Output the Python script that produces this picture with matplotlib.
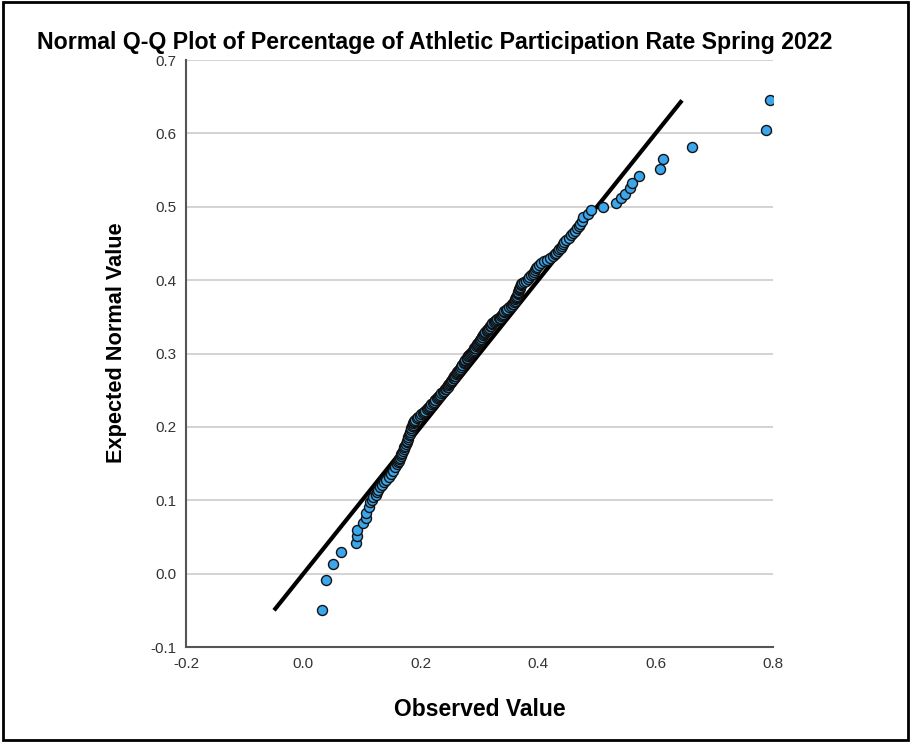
import matplotlib
matplotlib.use("Agg")
import matplotlib.pyplot as plt
from matplotlib.patches import Rectangle

plt.rcParams['font.family'] = ['Liberation Sans', 'DejaVu Sans']

# observed values (x) and expected normal values (y), sorted
observed = [
    0.031, 0.039, 0.051, 0.064, 0.090, 0.091, 0.091, 0.102, 0.106, 0.107, 0.111,
    0.114, 0.117, 0.119, 0.123, 0.125, 0.127, 0.131, 0.134, 0.138, 0.141, 0.145, 0.149, 0.152, 0.156,
    0.159, 0.161, 0.162, 0.163, 0.164, 0.166, 0.167, 0.168, 0.169, 0.171, 0.172, 0.173, 0.175, 0.176,
    0.177, 0.178, 0.179, 0.180, 0.181, 0.182, 0.183, 0.184,
    0.185, 0.186, 0.187, 0.188, 0.188, 0.190, 0.193, 0.196, 0.199, 0.201, 0.203, 0.205, 0.207, 0.210,
    0.212, 0.214, 0.216, 0.218, 0.220, 0.222, 0.224, 0.225, 0.227, 0.229, 0.231, 0.233, 0.235, 0.237, 0.239,
    0.241, 0.243, 0.244, 0.246, 0.247, 0.248, 0.250, 0.251, 0.252, 0.253, 0.255, 0.256, 0.257, 0.258,
    0.260, 0.261, 0.262, 0.263, 0.265, 0.266, 0.268, 0.269, 0.270, 0.271, 0.273, 0.274, 0.275, 0.276,
    0.278, 0.279, 0.280, 0.281, 0.282, 0.284,
    0.286, 0.287, 0.289, 0.290, 0.291, 0.292, 0.294, 0.295, 0.296, 0.297, 0.299, 0.300, 0.301, 0.302,
    0.304, 0.305, 0.306, 0.307, 0.309, 0.310, 0.312, 0.313, 0.315, 0.316, 0.318, 0.319, 0.321, 0.322,
    0.324, 0.326, 0.328, 0.330, 0.333, 0.335,
    0.337, 0.339, 0.340, 0.341, 0.342, 0.345, 0.347, 0.350, 0.353, 0.356, 0.357, 0.359, 0.360, 0.361,
    0.362, 0.363, 0.364, 0.365, 0.366, 0.366, 0.367, 0.368, 0.369, 0.369, 0.370, 0.371, 0.373, 0.376, 0.379,
    0.382, 0.385, 0.388, 0.391, 0.393, 0.395, 0.397, 0.398, 0.401, 0.404, 0.410, 0.415, 0.420, 0.426,
    0.428, 0.430, 0.433, 0.436, 0.438, 0.440, 0.442,
    0.444, 0.447, 0.452, 0.456, 0.459, 0.462, 0.466, 0.470, 0.472, 0.474, 0.477, 0.484, 0.490,
    0.510, 0.532, 0.541, 0.548, 0.557, 0.559, 0.571, 0.608, 0.612, 0.662, 0.788, 0.795,
]
expected = [
    -0.050, -0.009, 0.013, 0.029, 0.042, 0.051, 0.059, 0.069, 0.076, 0.083, 0.091,
    0.097, 0.101, 0.104, 0.107, 0.111, 0.114, 0.118, 0.121, 0.125, 0.128, 0.132, 0.136, 0.140, 0.145,
    0.149, 0.152, 0.154, 0.156, 0.158, 0.161, 0.163, 0.165, 0.167, 0.170, 0.172, 0.174, 0.177, 0.179,
    0.181, 0.184, 0.186, 0.189, 0.191, 0.193, 0.196, 0.198,
    0.201, 0.203, 0.205, 0.206, 0.208, 0.210, 0.212, 0.213, 0.215, 0.217, 0.219, 0.220, 0.222, 0.224,
    0.226, 0.227, 0.229, 0.231, 0.232, 0.234, 0.236, 0.237, 0.239, 0.241, 0.242, 0.244, 0.246, 0.247, 0.249,
    0.251, 0.252, 0.254, 0.255, 0.257, 0.258, 0.260, 0.261, 0.263, 0.264, 0.266, 0.267, 0.269, 0.270,
    0.272, 0.273, 0.275, 0.276, 0.278, 0.279, 0.281, 0.282, 0.284, 0.285, 0.287, 0.288, 0.290, 0.291,
    0.293, 0.294, 0.296, 0.297, 0.298, 0.299,
    0.301, 0.302, 0.304, 0.305, 0.307, 0.308, 0.310, 0.311, 0.313, 0.314, 0.316, 0.317, 0.319, 0.320,
    0.322, 0.323, 0.325, 0.326, 0.328, 0.329, 0.331, 0.332, 0.334, 0.335, 0.337, 0.338, 0.340, 0.341,
    0.343, 0.344, 0.346, 0.347, 0.348, 0.349,
    0.351, 0.353, 0.354, 0.356, 0.358, 0.360, 0.361, 0.363, 0.365, 0.367, 0.368, 0.370, 0.372, 0.374,
    0.375, 0.377, 0.379, 0.381, 0.382, 0.384, 0.386, 0.388, 0.389, 0.391, 0.393, 0.395, 0.396, 0.398, 0.399,
    0.402, 0.404, 0.407, 0.409, 0.411, 0.414, 0.416, 0.418, 0.421, 0.423, 0.426, 0.428, 0.430, 0.433,
    0.435, 0.437, 0.440, 0.442, 0.444, 0.447, 0.449,
    0.452, 0.455, 0.458, 0.461, 0.464, 0.467, 0.471, 0.474, 0.477, 0.481, 0.486, 0.490, 0.496,
    0.500, 0.5055, 0.512, 0.518, 0.525, 0.533, 0.542, 0.552, 0.565, 0.581, 0.604, 0.645,
]

# reference line end points
ref_x = [-0.05, 0.645]
ref_y = [-0.05, 0.645]

x_ticks = [-0.2, 0.0, 0.2, 0.4, 0.6, 0.8]
y_ticks = [-0.1, 0.0, 0.1, 0.2, 0.3, 0.4, 0.5, 0.6, 0.7]

fig = plt.figure(figsize=(9.11, 7.42), dpi=100)
ax = fig.add_axes([0.2042, 0.128, 0.6443, 0.7911])

ax.plot(ref_x, ref_y, color='black', linewidth=3, solid_capstyle='butt', zorder=3)
ax.scatter(observed, expected, s=52, facecolor='#3ba6ec', edgecolor='#111111',
           linewidth=1.0, zorder=4)

ax.set_xlim(-0.2, 0.8)
ax.set_ylim(-0.1, 0.7)
ax.set_xticks(x_ticks)
ax.set_yticks(y_ticks)
ax.set_xticklabels(['%.1f' % v for v in x_ticks])
ax.set_yticklabels(['%.1f' % v for v in y_ticks])
ax.tick_params(length=0, labelsize=11, labelcolor='#333333')
ax.tick_params(axis='x', pad=7)
ax.tick_params(axis='y', pad=7)

ax.grid(axis='y', color='#cccccc', linewidth=1.2)
ax.set_axisbelow(True)
for s in ['top', 'right']:
    ax.spines[s].set_visible(False)
for s in ['left', 'bottom']:
    ax.spines[s].set_color('#555555')
    ax.spines[s].set_linewidth(1.5)

ax.set_xlabel('Observed Value', fontsize=16.5, fontweight='bold', va='top')
ax.set_ylabel('Expected Normal Value', fontsize=15.7, fontweight='bold')
ax.xaxis.set_label_coords(0.5, -0.087)
ax.yaxis.set_label_coords(-0.101, 0.518)

fig.text(37 / 911, 1 - 43 / 742,
         'Normal Q-Q Plot of Percentage of Athletic Participation Rate Spring 2022',
         fontsize=16.7, fontweight='bold', va='center', ha='left')

# outer frame
fig.patches.append(Rectangle((0.003, 0.003), 0.994, 0.994, transform=fig.transFigure,
                             fill=False, edgecolor='black', linewidth=2))

fig.savefig('out.png', dpi=100)
